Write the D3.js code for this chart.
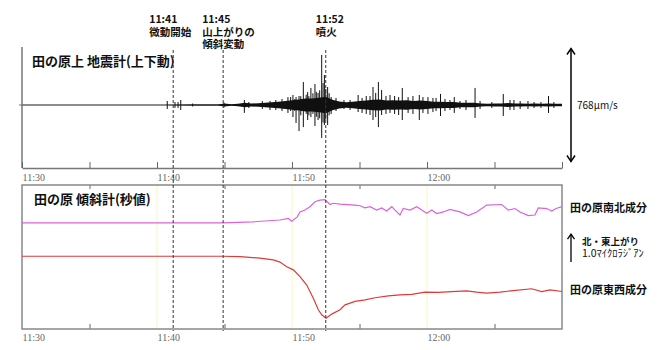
<!DOCTYPE html>
<html>
<head>
<meta charset="utf-8">
<script src="https://cdn.jsdelivr.net/npm/d3@7"></script>
<style>
  body { margin: 0; background: #fff; }
  svg { display: block; }
  .jp { font-family: "Noto Sans CJK JP", sans-serif; fill: #111; }
  .tick text { font-family: "Liberation Serif", serif; font-size: 10px; fill: #666; }
</style>
</head>
<body>
<svg id="chart" width="670" height="350"></svg>
<script>
// minutes after 11:30 (27 Sep 2014)
let tickMinutes = [0, 5, 10, 15, 20, 25, 30, 35, 40];
let labelMinutes = [0, 10, 20, 30];

// seismometer: background envelope [min, half amplitude um/s]
let seisEnvelope = [
  [0, 0], [10.5, 0], [12.5, 3], [13, 3], [13.5, 3], [14, 3], [14.5, 3], [15, 10],
  [15.5, 5], [16, 8], [16.5, 15], [17, 10], [17.5, 12], [18, 15], [18.5, 18],
  [19, 22], [19.5, 28], [20, 32], [20.5, 38], [21, 44], [21.5, 44], [22, 50],
  [22.5, 56], [23, 36], [23.5, 24], [24, 18], [24.5, 22], [25, 28], [25.5, 30],
  [26, 36], [26.5, 38], [27, 30], [27.5, 32], [28, 30], [28.5, 32], [29, 27],
  [29.5, 30], [30, 28], [30.5, 22], [31, 22], [31.5, 20], [32, 20], [32.5, 16],
  [33, 16], [33.5, 16], [34, 11], [34.5, 8], [35, 11], [35.5, 11], [36, 13],
  [36.5, 11], [37, 11], [37.5, 8], [38, 11], [38.5, 8], [39, 11], [39.5, 8], [40, 8]
];
// seismometer: individual spikes [min, up um/s, down um/s]
let seisSpikes = [
  [10.76, 27, 27], [11.33, 20, 20], [11.56, 20, 20], [11.76, 34, 34], [12.64, 10, 10],
  [14.96, 17, 17], [16.47, 34, 54], [16.8, 20, 20], [17.8, 27, 27], [18.37, 27, 34],
  [18.8, 34, 34], [19.26, 41, 41], [19.7, 54, 54], [19.9, 54, 41], [20.07, 68, 82],
  [20.2, 40, 40], [20.3, 54, 122], [20.52, 61, 177], [20.65, 60, 70], [20.84, 156, 150],
  [21.05, 70, 60], [21.16, 88, 102], [21.25, 60, 70], [21.4, 116, 82], [21.55, 80, 60],
  [21.7, 143, 143], [21.8, 90, 80], [21.93, 82, 102], [22.05, 100, 90], [22.2, 340, 224],
  [22.3, 150, 120], [22.4, 204, 136], [22.5, 110, 100], [22.64, 122, 136], [22.75, 80, 70],
  [22.9, 54, 61], [23.26, 48, 41], [23.85, 34, 27], [24.3, 34, 34], [24.9, 68, 48],
  [25.19, 48, 54], [25.5, 61, 61], [25.78, 61, 68], [26.0, 122, 102], [26.2, 82, 82],
  [26.4, 156, 150], [26.64, 102, 68], [26.96, 61, 61], [27.26, 68, 54], [27.6, 61, 61],
  [27.9, 54, 68], [28.17, 116, 102], [28.6, 54, 54], [28.96, 61, 61], [29.43, 68, 102],
  [29.7, 54, 54], [30.07, 54, 61], [30.44, 48, 48], [30.67, 48, 41], [31.0, 75, 75],
  [31.33, 41, 41], [31.7, 34, 34], [32.02, 54, 54], [32.44, 27, 27], [32.89, 34, 34],
  [33.56, 116, 88], [33.93, 27, 27], [34.8, 20, 20], [35.65, 75, 75], [36.15, 34, 34],
  [36.44, 34, 34], [36.9, 27, 27], [37.48, 27, 27], [37.93, 20, 20], [38.44, 20, 20],
  [39.0, 61, 54], [39.4, 20, 20]
];

// tiltmeter, change from pre-event level [min, microradian]
let tiltNS = [
  [0, 0], [14.85, 0], [17.1, 0.03], [19.1, 0.09], [19.73, 0.14], [19.98, 0.05],
  [20.39, 0.19], [20.59, 0.35], [20.96, 0.41], [21.33, 0.52], [21.7, 0.68],
  [22.07, 0.73], [22.44, 0.75], [22.81, 0.59], [23.06, 0.63], [23.56, 0.6],
  [24.67, 0.57], [25.04, 0.55], [25.41, 0.48], [25.78, 0.52], [26.27, 0.41],
  [26.64, 0.48], [27.01, 0.38], [27.39, 0.52], [27.63, 0.41], [28.0, 0.25],
  [28.24, 0.46], [28.74, 0.41], [29.24, 0.52], [29.61, 0.41], [29.98, 0.31],
  [30.35, 0.41], [30.72, 0.3], [31.21, 0.35], [31.7, 0.43], [32.44, 0.35],
  [33.06, 0.23], [33.68, 0.35], [34.42, 0.57], [35.53, 0.59], [36.02, 0.41],
  [36.52, 0.46], [36.89, 0.35], [37.5, 0.23], [38.0, 0.25], [38.24, 0.48],
  [38.87, 0.46], [39.24, 0.38], [39.56, 0.46], [40, 0.52]
];
let tiltEW = [
  [0, 0], [14.89, 0], [16.15, -0.01], [17.63, -0.06], [18.61, -0.12], [19.11, -0.19],
  [19.61, -0.34], [20.1, -0.44], [20.59, -0.66], [21.09, -0.93], [21.58, -1.36],
  [21.95, -1.73], [22.2, -1.89], [22.52, -2.0], [22.94, -1.87], [23.56, -1.73],
  [23.93, -1.57], [24.67, -1.46], [25.41, -1.41], [26.15, -1.34], [27.13, -1.28],
  [28.0, -1.25], [28.87, -1.23], [29.85, -1.16], [30.84, -1.17], [31.83, -1.14],
  [32.94, -1.12], [33.68, -1.16], [34.42, -1.19], [35.41, -1.16], [36.39, -1.11],
  [37.76, -1.05], [38.5, -1.14], [39.11, -1.09], [40, -1.14]
];

let eventMinutes = [11.2, 14.9, 22.5];
let eventLabels = [["11:41", "微動開始"], ["11:45", "山上がりの", "傾斜変動"], ["11:52", "噴火"]];
let labelDx = [-24, -21, -10];

const nsOffset = 1.08;   // display shift of NS trace, microradian
const t0 = new Date(2014, 8, 27, 11, 30);
const toDate = m => new Date(t0.getTime() + m * 60000);

const svg = d3.select("#chart");

const x = d3.scaleTime()
  .domain([toDate(0), toDate(40)])
  .range([22, 562]);

const ySeis = d3.scaleLinear().domain([-384, 384]).range([161.5, 48.5]);
const yTilt = d3.scaleLinear().domain([-2.35, 2.3]).range([329, 185]);

const fmt = d3.timeFormat("%H:%M");

//------------------------------
// Top panel : seismometer
//------------------------------
{
  let g = svg.append("g");

  // left axis line
  g.append("line")
    .attr("x1", 22).attr("x2", 22)
    .attr("y1", 47).attr("y2", 168)
    .attr("stroke", "#777").attr("stroke-width", 1.5);
  g.append("line")
    .attr("x1", 19).attr("x2", 22)
    .attr("y1", ySeis(0)).attr("y2", ySeis(0))
    .attr("stroke", "#777");

  let axis = d3.axisBottom(x)
    .tickValues(tickMinutes.map(toDate))
    .tickSizeInner(-6)
    .tickSizeOuter(0)
    .tickPadding(6)
    .tickFormat((d, i) => labelMinutes.includes(tickMinutes[i]) ? fmt(d) : "");
  let ax = g.append("g")
    .attr("transform", "translate(0,168)")
    .call(axis);
  ax.select(".domain").attr("stroke", "#777").attr("stroke-width", 1.5);
  ax.selectAll(".tick line").attr("stroke", "#666");
  ax.selectAll(".tick text").attr("text-anchor", "start");

  // baseline
  g.append("line")
    .attr("x1", x(toDate(0))).attr("x2", x(toDate(40)))
    .attr("y1", ySeis(0)).attr("y2", ySeis(0))
    .attr("stroke", "#666").attr("stroke-width", 1.6);

  let area = d3.area()
    .x(d => x(toDate(d[0])))
    .y0(d => ySeis(-d[1]))
    .y1(d => ySeis(d[1]))
    .curve(d3.curveLinear);
  g.append("path")
    .datum(seisEnvelope)
    .attr("d", area)
    .attr("fill", "#111");

  g.selectAll(".spike")
    .data(seisSpikes)
    .enter()
    .append("line")
    .attr("class", "spike")
    .attr("x1", d => x(toDate(d[0])))
    .attr("x2", d => x(toDate(d[0])))
    .attr("y1", d => ySeis(d[1]))
    .attr("y2", d => ySeis(-d[2]))
    .attr("stroke", "#111")
    .attr("stroke-width", 1);

  g.append("text")
    .attr("class", "jp")
    .attr("x", 32).attr("y", 66)
    .attr("font-size", 13).attr("font-weight", "bold")
    .text("田の原上 地震計(上下動)");

  // 768um/s scale arrow
  let xa = 571;
  g.append("line")
    .attr("x1", xa).attr("x2", xa)
    .attr("y1", ySeis(384)).attr("y2", ySeis(-384))
    .attr("stroke", "#000").attr("stroke-width", 1.5);
  g.append("path")
    .attr("d", `M${xa - 4},${ySeis(384) + 6}L${xa},${ySeis(384)}L${xa + 4},${ySeis(384) + 6}`)
    .attr("fill", "none").attr("stroke", "#000").attr("stroke-width", 1.5);
  g.append("path")
    .attr("d", `M${xa - 4},${ySeis(-384) - 6}L${xa},${ySeis(-384)}L${xa + 4},${ySeis(-384) - 6}`)
    .attr("fill", "none").attr("stroke", "#000").attr("stroke-width", 1.5);
  g.append("text")
    .attr("class", "jp")
    .attr("x", 577).attr("y", ySeis(0) + 4)
    .attr("font-size", 10)
    .text("768μm/s");
}

//------------------------------
// Bottom panel : tiltmeter
//------------------------------
{
  let g = svg.append("g");

  // pale yellow grid at 10 min
  g.selectAll(".grid")
    .data(labelMinutes.slice(1))
    .enter()
    .append("line")
    .attr("x1", d => x(toDate(d))).attr("x2", d => x(toDate(d)))
    .attr("y1", 186).attr("y2", 328)
    .attr("stroke", "#f7f5c4").attr("stroke-width", 1);

  let minor = tickMinutes.filter(m => m % 10 === 5);
  let bottom = d3.axisBottom(x)
    .tickValues(minor.map(toDate))
    .tickSizeInner(-5)
    .tickSizeOuter(0)
    .tickFormat("");
  let axb = g.append("g").attr("transform", "translate(0,329)").call(bottom);
  axb.select(".domain").remove();
  axb.selectAll(".tick line").attr("stroke", "#666");

  let labels = d3.axisBottom(x)
    .tickValues(labelMinutes.map(toDate))
    .tickSize(0)
    .tickPadding(5)
    .tickFormat(fmt);
  let axl = g.append("g").attr("transform", "translate(0,329)").call(labels);
  axl.select(".domain").remove();
  axl.selectAll(".tick text").attr("text-anchor", "start");

  let top = d3.axisTop(x)
    .tickValues(minor.map(toDate))
    .tickSizeInner(-4)
    .tickSizeOuter(0)
    .tickFormat("");
  let axt = g.append("g").attr("transform", "translate(0,185)").call(top);
  axt.select(".domain").remove();
  axt.selectAll(".tick line").attr("stroke", "#666");

  g.append("rect")
    .attr("x", 22).attr("y", 185)
    .attr("width", 540).attr("height", 144)
    .attr("fill", "none")
    .attr("stroke", "#888").attr("stroke-width", 1.5);

  let line = d3.line()
    .x(d => x(toDate(d[0])))
    .y(d => yTilt(d[1]))
    .curve(d3.curveLinear);

  g.append("path")
    .datum(tiltNS.map(d => [d[0], d[1] + nsOffset]))
    .attr("d", line)
    .attr("fill", "none")
    .attr("stroke", "#dc62dc").attr("stroke-width", 1.2);

  g.append("path")
    .datum(tiltEW)
    .attr("d", line)
    .attr("fill", "none")
    .attr("stroke", "#df3a3a").attr("stroke-width", 1.2);

  g.append("text")
    .attr("class", "jp")
    .attr("x", 34).attr("y", 204)
    .attr("font-size", 13).attr("font-weight", "bold")
    .text("田の原 傾斜計(秒値)");

  // legend
  g.append("text").attr("class", "jp")
    .attr("x", 570).attr("y", 212)
    .attr("font-size", 11).attr("font-weight", "bold")
    .text("田の原南北成分");
  g.append("text").attr("class", "jp")
    .attr("x", 570).attr("y", 294)
    .attr("font-size", 11).attr("font-weight", "bold")
    .text("田の原東西成分");

  // 1.0 microradian arrow
  let xa = 571, yb = 262, yt = yb - (yTilt(0) - yTilt(0.9));
  g.append("line")
    .attr("x1", xa).attr("x2", xa)
    .attr("y1", yb).attr("y2", yt)
    .attr("stroke", "#000").attr("stroke-width", 1.3);
  g.append("path")
    .attr("d", `M${xa - 3.5},${yt + 5}L${xa},${yt}L${xa + 3.5},${yt + 5}`)
    .attr("fill", "none").attr("stroke", "#000").attr("stroke-width", 1.3);
  g.append("text").attr("class", "jp")
    .attr("x", 582).attr("y", 245)
    .attr("font-size", 9.5).attr("font-weight", "bold")
    .text("北・東上がり");
  g.append("text").attr("class", "jp")
    .attr("x", 582).attr("y", 257)
    .attr("font-size", 10.5)
    .text("1.0ﾏｲｸﾛﾗｼﾞｱﾝ");
}

//------------------------------
// Event lines and labels
//------------------------------
{
  let g = svg.append("g");
  g.selectAll(".event-line")
    .data(eventMinutes)
    .enter()
    .append("line")
    .attr("class", "event-line")
    .attr("x1", d => x(toDate(d))).attr("x2", d => x(toDate(d)))
    .attr("y1", 50).attr("y2", 331)
    .attr("stroke", "#333")
    .attr("stroke-width", 1)
    .attr("stroke-dasharray", "3,2");

  eventLabels.forEach((lines, i) => {
    lines.forEach((s, j) => {
      g.append("text")
        .attr("class", "jp")
        .attr("font-size", 10.5).attr("font-weight", "bold")
        .attr("x", x(toDate(eventMinutes[i])) + labelDx[i])
        .attr("y", 23 + j * 12.5)
        .text(s);
    });
  });
}
</script>
</body>
</html>
